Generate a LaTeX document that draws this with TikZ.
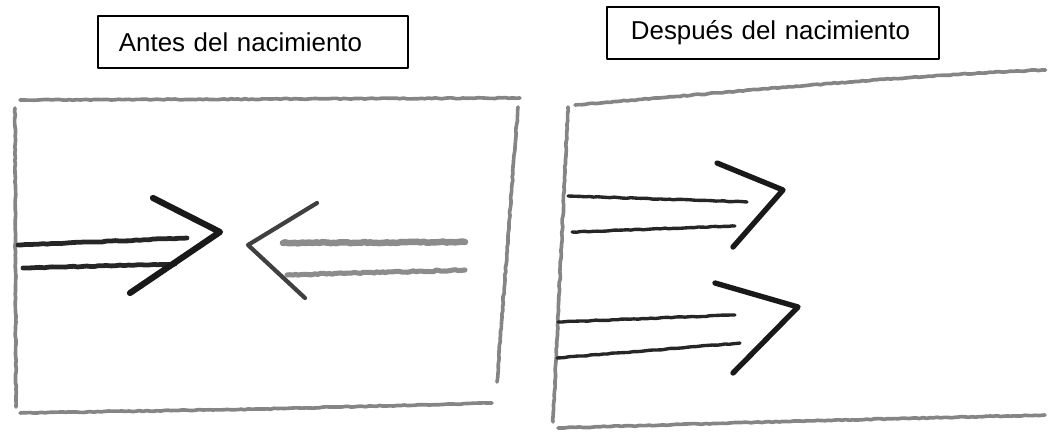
\documentclass[tikz,border=0pt]{standalone}
\usepackage{fontspec}
\setmainfont{Liberation Sans}
\usetikzlibrary{positioning, decorations.pathmorphing}

\begin{document}
\begin{tikzpicture}[
                x=0.025cm, y=-0.025cm,
                line cap=round, line join=round,
                pencil/.style={draw=black!48, line width=2.6pt, decorate,
                    decoration={random steps, segment length=2.5pt, amplitude=0.35pt}},
                stroke/.style={draw=black!85, line width=2.4pt, decorate,
                    decoration={random steps, segment length=3pt, amplitude=0.3pt}},
                head/.style={draw=black!90, line width=3.8pt},
                smudge/.style={draw=black!45, line width=4.6pt, decorate,
                    decoration={random steps, segment length=2pt, amplitude=0.5pt}},
                title/.style={draw, line width=0.8pt, rectangle, align=left, inner ysep=0pt,
                    font=\fontsize{18.4}{22}\selectfont},
            ]
                \pgfmathsetseed{11}
                \useasboundingbox (0,0) rectangle (1051,433);

                % Labels above the two panels
                \node[title, text width=6.7cm, inner xsep=0.525cm, minimum height=1.3cm] (before) at (253,42) {Antes del nacimiento};
                \node[title, text width=7.1cm, inner xsep=0.6cm, minimum height=1.3cm] (after) at (773,33) {Después del nacimiento};

                % Left panel: frame drawn as four loose strokes
                \draw[pencil] (20,100) -- (270,99) -- (520,98);
                \draw[pencil] (15,108) -- (16,407);
                \draw[pencil] (518,107) -- (497,382);
                \draw[pencil] (20,413) -- (260,409) -- (492,403);

                % Left panel: arrow pointing right
                \draw[stroke, line width=3.4pt] (18,245) -- (187,238);
                \draw[stroke, line width=3.4pt] (23,268) -- (175,264);
                \draw[head, line width=4.4pt] (153,198) -- (220,232) -- (130,293);

                % Left panel: arrow pointing left
                \draw[head, draw=black!75, line width=3pt] (317,203) -- (248,245) -- (305,298);
                \draw[smudge] (283,243) -- (465,242);
                \draw[smudge, line width=3.6pt] (287,275) -- (465,270);

                % Right panel: frame open on the right
                \draw[pencil] (575,105) .. controls (800,86) and (930,74) .. (1045,70);
                \draw[pencil] (568,107) -- (553,422);
                \draw[pencil] (558,428) -- (800,421) -- (1045,415);

                % Right panel: two arrows pointing right
                \draw[stroke] (568,196) -- (747,202);
                \draw[stroke] (572,232) -- (735,226);
                \draw[head] (717,163) -- (783,190) -- (733,247);

                \draw[stroke] (558,322) -- (735,315);
                \draw[stroke] (557,358) -- (740,343);
                \draw[head] (715,283) -- (798,307) -- (733,373);
            \end{tikzpicture}
\end{document}
